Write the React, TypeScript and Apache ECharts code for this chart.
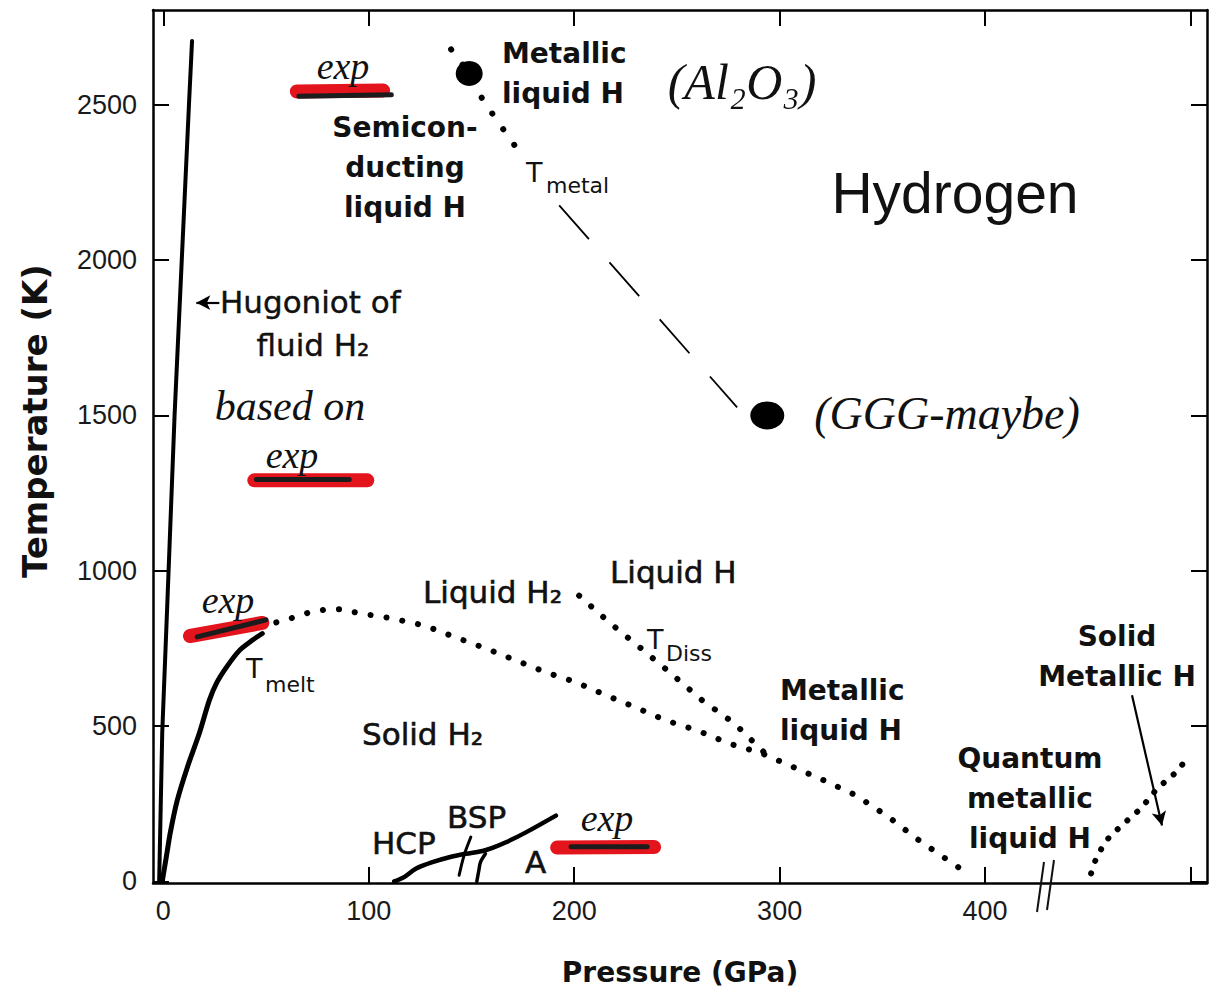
import React, { useEffect, useRef } from "react";
import * as echarts from "echarts";

// Axis ticks
const pressureTicks = [0, 100, 200, 300, 400, 500];
const pressureLabels = [0, 100, 200, 300, 400];
const temperatureTicks = [0, 500, 1000, 1500, 2000, 2500];

// Curves [Pressure GPa, Temperature K]
const hugoniot = [[-2, 0], [-0.5, 480], [2, 900], [5.5, 1500], [9, 2000], [12.5, 2500], [14, 2705]];
const meltSolid = [[-0.5, 0], [1.5, 80], [3.5, 160], [6.8, 261], [11.7, 367], [17.5, 476], [22.4, 583], [25.8, 637], [30.7, 689], [37, 743], [43.3, 776], [48.2, 798]];
const meltDotted = [[55, 834], [63.7, 850], [71, 866], [79.8, 876], [87, 876], [95.4, 863], [111, 847], [127, 824], [142.6, 785], [157, 750], [171.8, 711], [186.4, 673], [201, 641], [215.6, 599], [230, 560], [244.8, 518], [259.9, 486], [275.4, 444], [291.5, 412], [307, 367], [321.7, 325], [337.2, 277], [353.3, 206], [367.9, 132], [383.5, 61], [390.8, 29]];
const dissDotted = [[202.4, 920], [217, 834], [232.6, 750], [247.2, 669], [262.3, 583], [277.9, 509], [292.5, 415]];
const solidMetalDotted = [[451.6, 26], [454.5, 84], [460.3, 142], [467.6, 187], [475.9, 235], [483.7, 299], [492.9, 351], [496.8, 383]];
const metalDotted = [[140.1, 2678], [148.9, 2601], [155.2, 2520], [160.1, 2472], [165.9, 2417], [171.8, 2362]];
const metalDashed = [[192.7, 2176], [279.3, 1526]];
const samplePoints = [[148.9, 2601], [294, 1500]];
const hcpLine = [[112.4, 0], [117.2, 14], [122.9, 41], [131, 62], [139.2, 78], [147.3, 89], [155.4, 98], [160.2, 108], [166.8, 126], [176.5, 158], [191.1, 212]];
const bspALine = [[152.6, 0], [153.6, 36], [154.4, 62], [156.8, 89]];
const hcpBspLine = [[144, 20], [146.4, 84], [149.7, 143]];

// Experimental markers (red highlighter with dark pen stroke)
const expRed = [
  [[65, 2543], [107, 2546]],
  [[44.3, 1291], [99.3, 1291]],
  [[13, 790], [48.2, 832]],
  [[191.7, 109], [238.9, 111]],
];
const expDark = [
  [[66, 2527], [111, 2532]],
  [[45.3, 1294], [90.5, 1294]],
  [[16.5, 787], [50, 842]],
  [[198.5, 112], [235.5, 112]],
];

// Arrows
const arrows = [
  [[27.3, 1863], [16.1, 1863]],
  [[471.5, 599], [486.1, 180]],
];

const BOLD = 'bold 28px "DejaVu Sans"';
const MED = '31px "DejaVu Sans"';
const THIN_T = '27px "DejaVu Sans"';
const THIN_SUB = '22px "DejaVu Sans"';
const HAND = 'italic 38px "Liberation Serif"';

function txt(text: string, x: number, y: number, font: string, align: string = "left", extra: any = {}) {
  return {
    type: "text",
    silent: true,
    z: 100,
    style: {
      text,
      x,
      y,
      font,
      fill: "#111",
      textAlign: align,
      textVerticalAlign: "middle",
      ...extra,
    },
  };
}

export default function App() {
  const ref = useRef<HTMLDivElement>(null);
  useEffect(() => {
    if (!ref.current) return;
    const chart = echarts.init(ref.current, null, { renderer: "svg" });

    const dotted = (data: number[][], gap = 16) => ({
      type: "line",
      data,
      symbol: "none",
      silent: true,
      lineStyle: { color: "#000", width: 6, type: [0.1, gap], cap: "round" },
      z: 5,
    });
    const solid = (data: number[][], width = 4) => ({
      type: "line",
      data,
      symbol: "none",
      silent: true,
      smooth: 0.3,
      lineStyle: { color: "#000", width, cap: "round", join: "round" },
      z: 5,
    });

    const series: any[] = [
      { ...solid(hugoniot, 4), smooth: false },
      solid(meltSolid, 5),
      dotted(meltDotted, 16),
      dotted(dissDotted, 16),
      dotted(solidMetalDotted, 13),
      dotted(metalDotted, 19),
      {
        type: "line",
        data: metalDashed,
        symbol: "none",
        silent: true,
        lineStyle: { color: "#000", width: 1.8, type: [45, 31] },
      },
      {
        type: "scatter",
        data: samplePoints,
        symbol: "circle",
        symbolSize: (v: number[]) => (v[0] > 200 ? [34, 28] : [27, 25]),
        itemStyle: { color: "#000", opacity: 1 },
        silent: true,
        z: 6,
      },
      solid(hcpLine, 4.5),
      solid(bspALine, 3.5),
      solid(hcpBspLine, 3),
      ...expRed.map((d) => ({
        type: "line",
        data: d,
        symbol: "none",
        silent: true,
        lineStyle: { color: "#e3141c", width: 14, cap: "round" },
        z: 3,
      })),
      ...expDark.map((d) => ({
        type: "line",
        data: d,
        symbol: "none",
        silent: true,
        lineStyle: { color: "#1c1c1c", width: 5, cap: "round" },
        z: 4,
      })),
      {
        type: "line",
        data: [],
        symbol: "none",
        silent: true,
        markLine: {
          silent: true,
          symbol: ["none", "arrow"],
          symbolSize: [11, 14],
          label: { show: false },
          lineStyle: { color: "#000", width: 2.2, type: "solid" },
          data: arrows.map((a) => [{ coord: a[0] }, { coord: a[1] }]),
        },
      },
    ];

    const axisLine = { show: true, onZero: false, lineStyle: { color: "#000", width: 2.5 } };
    const axisTickX = { show: true, inside: true, length: 16, customValues: pressureTicks, lineStyle: { color: "#000", width: 2 } };
    const axisTickY = { show: true, inside: true, length: 16, customValues: temperatureTicks, lineStyle: { color: "#000", width: 2 } };
    const labelStyle = { fontFamily: "Liberation Sans", fontSize: 27, color: "#1a1a1a", formatter: (v: number) => String(v) };

    chart.setOption({
      animation: false,
      backgroundColor: "#ffffff",
      grid: { left: 153, right: 23, top: 10, bottom: 112, containLabel: false },
      xAxis: [
        {
          type: "value",
          min: -5,
          max: 508,
          position: "bottom",
          axisLine,
          axisTick: axisTickX,
          splitLine: { show: false },
          axisLabel: { ...labelStyle, margin: 14, customValues: pressureLabels },
        },
        {
          type: "value",
          min: -5,
          max: 508,
          position: "top",
          axisLine,
          axisTick: axisTickX,
          splitLine: { show: false },
          axisLabel: { show: false },
        },
      ],
      yAxis: [
        {
          type: "value",
          min: -5,
          max: 2805,
          position: "left",
          axisLine,
          axisTick: axisTickY,
          splitLine: { show: false },
          axisLabel: { ...labelStyle, margin: 16, customValues: temperatureTicks },
        },
        {
          type: "value",
          min: -5,
          max: 2805,
          position: "right",
          axisLine,
          axisTick: axisTickY,
          splitLine: { show: false },
          axisLabel: { show: false },
        },
      ],
      series,
      graphic: [
        // axis titles
        {
          type: "text",
          silent: true,
          x: 35,
          y: 421,
          rotation: Math.PI / 2,
          style: { text: "Temperature (K)", font: 'bold 34px "DejaVu Sans"', fill: "#111", textAlign: "center", textVerticalAlign: "middle" },
        },
        txt("Pressure (GPa)", 680, 972, 'bold 28px "DejaVu Sans"', "center"),
        // title
        txt("Hydrogen", 955, 193, '57px "Liberation Sans"', "center"),
        // bold region labels
        txt("Metallic\nliquid H", 502, 73, BOLD, "left", { lineHeight: 40 }),
        txt("Semicon-\nducting\nliquid H", 405, 167, BOLD, "center", { lineHeight: 40 }),
        txt("Metallic\nliquid H", 780, 710, BOLD, "left", { lineHeight: 40 }),
        txt("Quantum\nmetallic\nliquid H", 1030, 798, BOLD, "center", { lineHeight: 40 }),
        txt("Solid\nMetallic H", 1117, 656, BOLD, "center", { lineHeight: 40 }),
        // medium labels
        txt("Liquid H₂", 423, 592, MED, "left", { stroke: "#111", lineWidth: 0.6 }),
        txt("Liquid H", 610, 572, MED, "left", { stroke: "#111", lineWidth: 0.6 }),
        txt("Solid H₂", 362, 734, MED, "left", { stroke: "#111", lineWidth: 0.6 }),
        txt("HCP", 372, 843, MED, "left", { stroke: "#111", lineWidth: 0.6 }),
        txt("BSP", 447, 817, MED, "left", { stroke: "#111", lineWidth: 0.6 }),
        txt("A", 525, 862, MED, "left", { stroke: "#111", lineWidth: 0.6 }),
        txt("Hugoniot of", 220, 302, MED, "left", { stroke: "#111", lineWidth: 0.4 }),
        txt("fluid H₂", 313, 345, MED, "center", { stroke: "#111", lineWidth: 0.4 }),
        // T labels
        txt("T", 526, 172, THIN_T),
        txt("metal", 546, 185, THIN_SUB),
        txt("T", 246, 668, THIN_T),
        txt("melt", 265, 684, THIN_SUB),
        txt("T", 647, 639, THIN_T),
        txt("Diss", 666, 653, THIN_SUB),
        // handwritten notes
        txt("exp", 343, 66, HAND, "center"),
        txt("exp", 292, 455, HAND, "center"),
        txt("exp", 228, 600, HAND, "center"),
        txt("exp", 607, 818, HAND, "center"),
        txt("based on", 290, 406, 'italic 42px "Liberation Serif"', "center"),
        txt("(Al₂O₃)", 742, 82, 'italic 50px "Liberation Serif"', "center"),
        txt("(GGG-maybe)", 947, 413, 'italic 46px "Liberation Serif"', "center"),
        // axis break marks
        { type: "line", silent: true, z: 100, shape: { x1: 1044, y1: 862, x2: 1037, y2: 912 }, style: { stroke: "#111", lineWidth: 2 } },
        { type: "line", silent: true, z: 100, shape: { x1: 1054, y1: 860, x2: 1047, y2: 910 }, style: { stroke: "#111", lineWidth: 2 } },
      ],
    });
    return () => chart.dispose();
  }, []);

  return (
    <div
      ref={ref}
      style={{ position: "fixed", left: 0, top: 0, width: 1230, height: 995, background: "#fff" }}
    />
  );
}
